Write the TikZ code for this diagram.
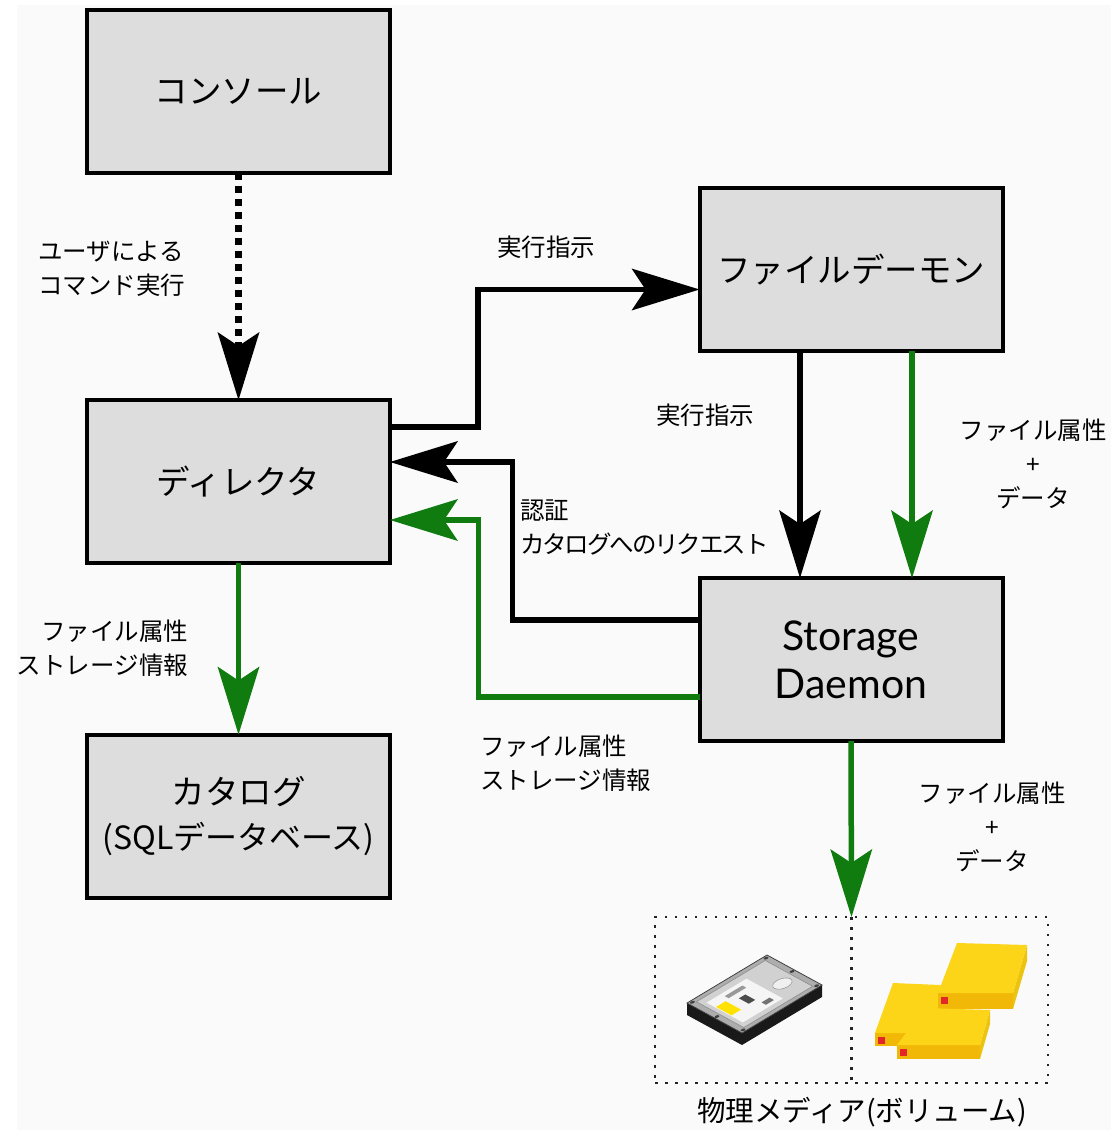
\documentclass[tikz,border=0pt]{standalone}
\usepackage{fontspec}
\setmainfont{Noto Sans CJK JP}
\newfontfamily\latinfont{Lato}
\usetikzlibrary{arrows.meta,calc}
\definecolor{boxgray}{HTML}{DDDDDD}
\definecolor{paper}{HTML}{FAFAFA}
\definecolor{flowgreen}{RGB}{16,124,16}
\definecolor{tapetop}{RGB}{252,212,24}
\definecolor{tapefront}{RGB}{242,184,8}
\definecolor{tapeside}{RGB}{236,196,16}
\definecolor{tapemark}{RGB}{226,38,42}

% one tape cartridge: back-left, back-right, front-right, front-left, front height
\newcommand{\tapecart}[5]{%
  \fill[tapefront] (#4) -- (#3) -- ([yshift=-#5]#3) -- ([yshift=-#5]#4) -- cycle;
  \fill[tapeside] (#3) -- (#2) -- ([yshift=-#5]#2) -- ([yshift=-#5]#3) -- cycle;
  \fill[tapetop] (#1) -- (#2) -- (#3) -- (#4) -- cycle;
  \fill[tapemark] ([xshift=3pt,yshift=-4pt]#4) rectangle ++(7,7);
}

\begin{document}
\begin{tikzpicture}[x=1pt,y=-1pt,
  comp/.style={draw=black, line width=4pt, fill=boxgray,
    minimum width=303pt, minimum height=163pt, inner sep=0pt, outer sep=0pt,
    align=center, font=\fontsize{33.5pt}{45pt}\selectfont},
  lbl/.style={inner sep=0pt, outer sep=0pt, font=\fontsize{24.5pt}{34pt}\selectfont},
  flow/.style={line width=5.5pt,
    -{Stealth[length=68pt,width=42pt,inset=14pt,line width=0pt]}},
  mediadots/.style={draw=black!85, line width=2.5pt, dash pattern=on 2.5pt off 7.5pt},
]
\useasboundingbox (0,0) rectangle (1111,1130);
\fill[white] (0,0) rectangle (1111,1130);
\fill[paper] (17,5) rectangle (1111,1130);

% components
\node[comp] (console)  at (238.5,91.5) {コンソール};
\node[comp] (director) at (238.5,481.5) {ディレクタ};
\node[comp] (catalog)  at (238.5,816) {カタログ\\{\fontsize{32pt}{45pt}\selectfont(SQLデータベース)}};
\node[comp] (fd)       at (851,269.5) {ファイルデーモン};
\node[comp, font=\latinfont\fontsize{41pt}{48pt}\selectfont] (sd) at (851,659.5) {Storage\\Daemon};

% storage media
\node[mediadots, minimum width=393pt, minimum height=166pt, inner sep=0pt, outer sep=0pt] (media) at (851.5,1000) {};
\draw[mediadots] (media.north) -- (media.south);

% hard disk
\begin{scope}[shift={(687,1003)}, x={(55pt,-30pt)}, y={(80pt,48pt)}]
  \fill[black!90] (0,0) -- (1,0) -- (1,1) -- ([yshift=-12pt]1,1) -- ([yshift=-12pt]1,0) -- ([yshift=-12pt]0,0) -- cycle;
  \filldraw[fill=black!32, draw=black!75, line width=0.8pt] (0,0) -- (1,0) -- (1,1) -- (0,1) -- cycle;
  \filldraw[fill=black!18, draw=black!45, line width=0.6pt] (0.07,0.07) -- (0.93,0.07) -- (0.93,0.93) -- (0.07,0.93) -- cycle;
  \fill[black!4] (0.18,0.12) -- (0.84,0.12) -- (0.84,0.62) -- (0.18,0.62) -- cycle;
  \fill[yellow!85!orange] (0.34,0.13) -- (0.62,0.13) -- (0.62,0.25) -- (0.34,0.25) -- cycle;
  \fill[black!70] (0.42,0.36) -- (0.6,0.36) -- (0.6,0.44) -- (0.42,0.44) -- cycle;
  \fill[black!40] (0.25,0.3) -- (0.32,0.3) -- (0.32,0.52) -- (0.25,0.52) -- cycle;
  \fill[black!55] (0.7,0.45) -- (0.78,0.45) -- (0.78,0.55) -- (0.7,0.55) -- cycle;
  \filldraw[fill=black!6, draw=black!40, line width=0.6pt] (0.6,0.78) circle [radius=0.1];
  \foreach \p in {(0.04,0.04),(0.96,0.04),(0.96,0.96),(0.04,0.96),(0.5,0.03),(0.5,0.97)}
    \fill[black!75] \p circle [radius=0.025];
\end{scope}

% tape cartridges
\tapecart{893,983}{940,985}{962,1033}{875,1033}{13pt}
\tapecart{957,943}{1027,945}{1013,993}{938,993}{16pt}
\tapecart{925,1008}{990,1010}{980,1045}{897,1045}{14pt}

% connectors
\draw[flow, line width=7pt, dash pattern=on 7pt off 6pt] (console.south) -- (director.north);
\draw[flow] ($(director.north east)+(0,27)$) -- ++(88,0) |- ($(fd.west)+(0,20)$);
\draw[flow] ($(fd.south)+(-51,0)$) -- ($(sd.north)+(-51,0)$);
\draw[flow, flowgreen] ($(fd.south)+(61,0)$) -- ($(sd.north)+(61,0)$);
\draw[flow] ($(sd.west)+(0,-39.5)$) -- ++(-187,0) |- ($(director.east)+(0,-19.5)$);
\draw[flow, flowgreen] ($(sd.west)+(0,37.5)$) -- ++(-221,0) |- ($(director.east)+(0,38.5)$);
\draw[flow, flowgreen] (director.south) -- (catalog.north);
\draw[flow, flowgreen] (sd.south) -- (media.north);

% labels
\node[lbl, anchor=west, align=left] (luser) at (38,269) {ユーザによる\\コマンド実行};
\node[lbl] (lexec1) at (546,247) {実行指示};
\node[lbl] (lexec2) at (705,415) {実行指示};
\node[lbl, align=center] (lfdsd) at (1033,464) {ファイル属性\\+\\データ};
\node[lbl, anchor=west, align=left] (lauth) at (520,527) {認証\\{\addfontfeatures{LetterSpace=-8.5}カタログへのリクエスト}};
\node[lbl, anchor=east, align=right] (lcat) at (188,648) {ファイル属性\\ストレージ情報};
\node[lbl, anchor=west, align=left] (lsddir) at (480,763) {ファイル属性\\ストレージ情報};
\node[lbl, align=center] (lsdmed) at (992,827) {ファイル属性\\+\\データ};
\node[inner sep=0pt, font=\fontsize{28.5pt}{34pt}\selectfont] (lmedia) at (862,1112) {物理メディア(ボリューム)};
\end{tikzpicture}
\end{document}
